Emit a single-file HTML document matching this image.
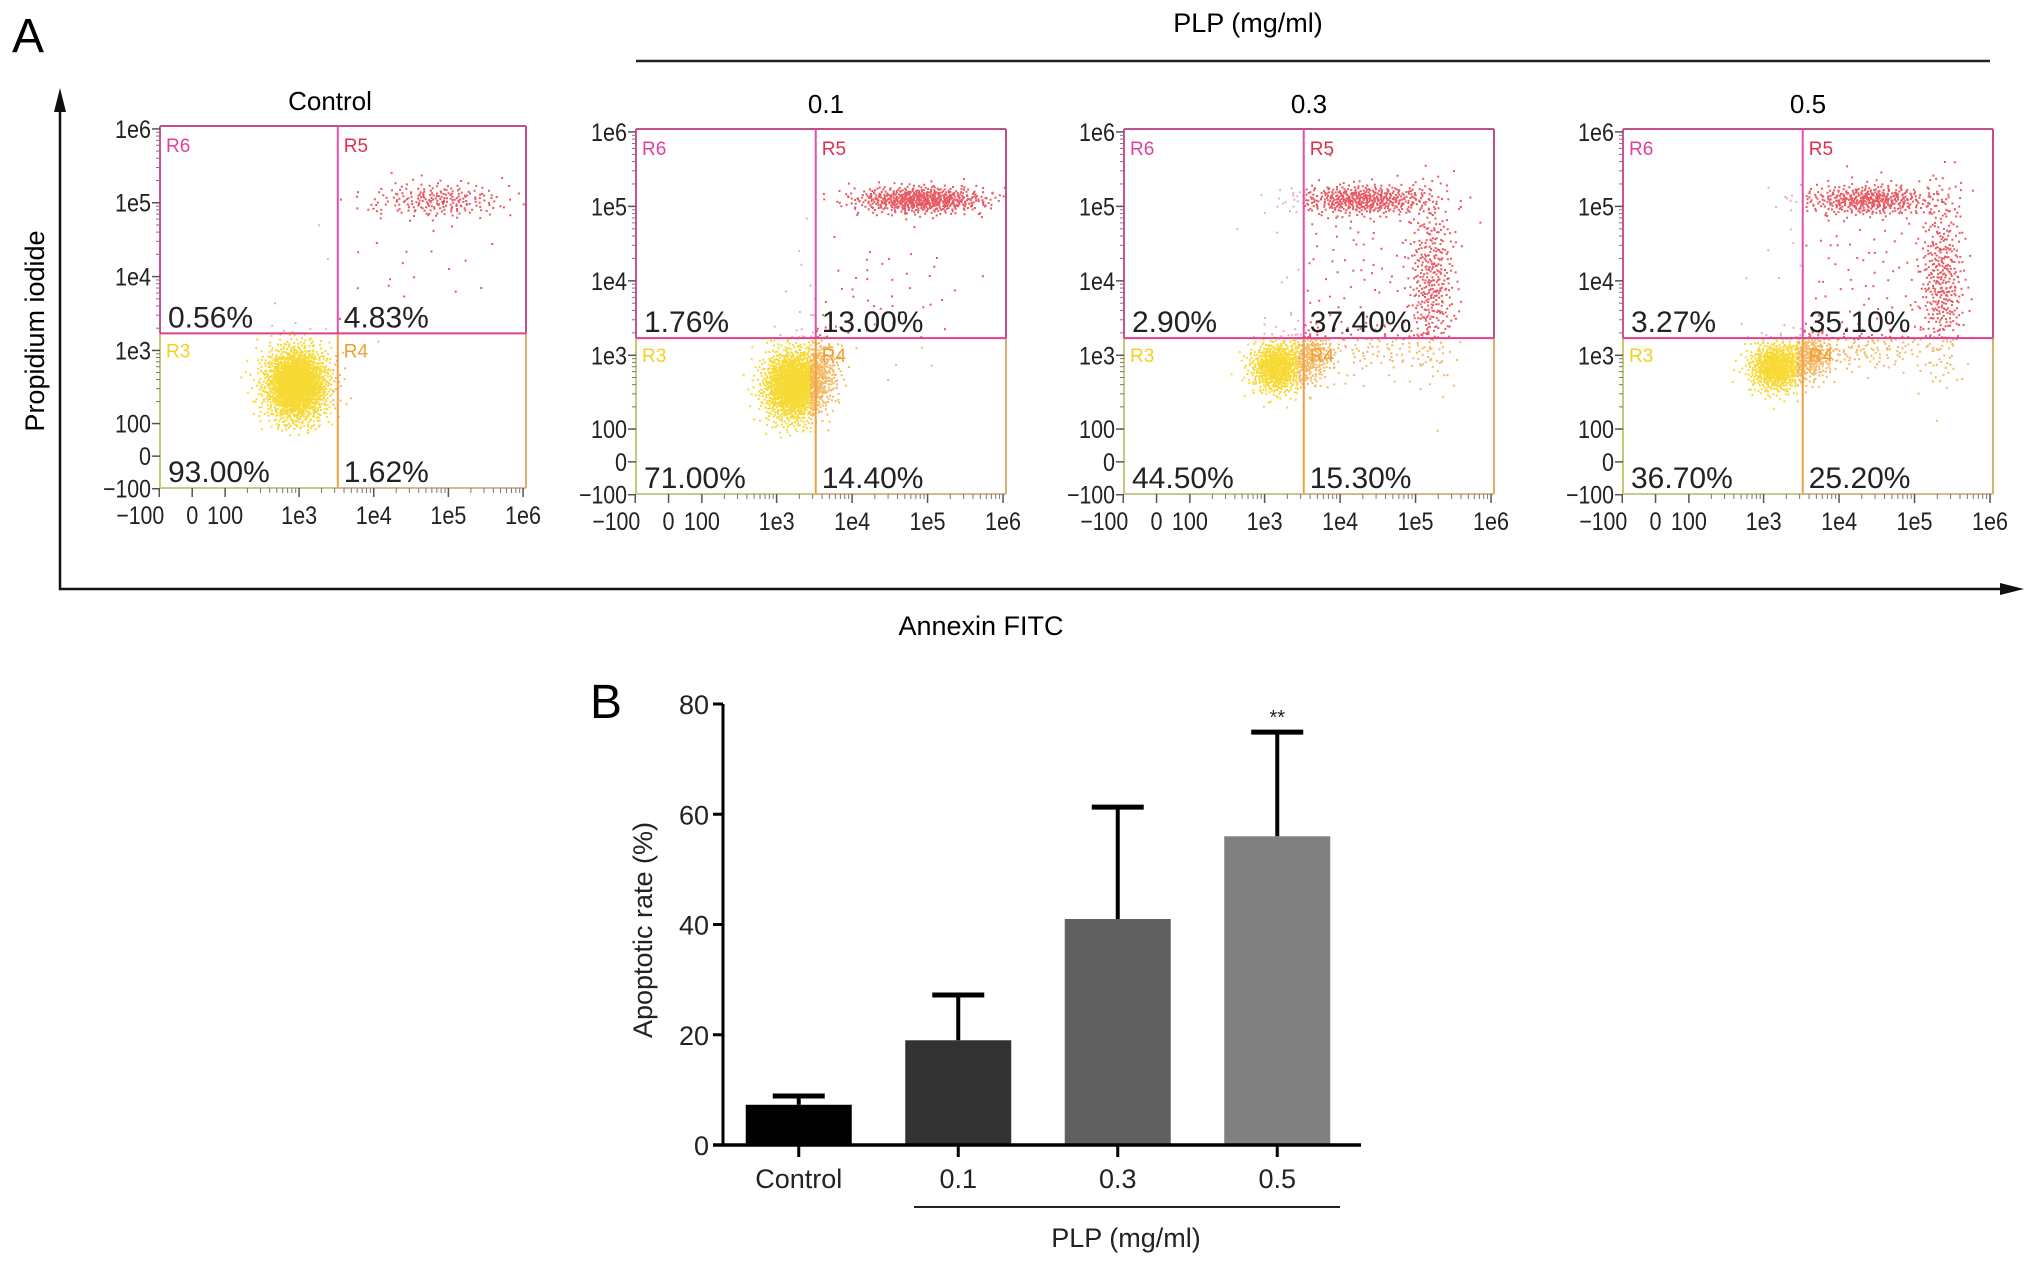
<!DOCTYPE html>
<html><head><meta charset="utf-8">
<style>
html,body{margin:0;padding:0;background:#fff;}
svg{display:block;font-family:"Liberation Sans",Arial,sans-serif;}
</style></head>
<body>
<svg id="fig" width="2032" height="1266" viewBox="0 0 2032 1266" xmlns="http://www.w3.org/2000/svg">
  <text x="12" y="52" font-size="48">A</text>
  <text x="1248" y="32" font-size="27" text-anchor="middle">PLP (mg/ml)</text>
  <line x1="636" y1="61" x2="1990" y2="61" stroke="#222" stroke-width="2.5"/>
  <line x1="60" y1="100" x2="60" y2="590" stroke="#111" stroke-width="2.5"/>
  <polygon points="60,88 54,112 66,112" fill="#111"/>
  <line x1="59" y1="589" x2="2010" y2="589" stroke="#111" stroke-width="2.5"/>
  <polygon points="2024,589 2000,583 2000,595" fill="#111"/>
  <text x="0" y="0" font-size="27" text-anchor="middle" transform="translate(44,331) rotate(-90)">Propidium iodide</text>
  <text x="981" y="635" font-size="27" text-anchor="middle">Annexin FITC</text>
  <g id="flow"></g>
  <text x="590" y="718" font-size="48">B</text>
  <g id="bar"></g>
</svg>
<script>
// ---------- Flow cytometry data ----------
const panelNames = ['Control', '0.1', '0.3', '0.5'];
const quadUL = ['0.56%', '1.76%', '2.90%', '3.27%'];
const quadUR = ['4.83%', '13.00%', '37.40%', '35.10%'];
const quadLL = ['93.00%', '71.00%', '44.50%', '36.70%'];
const quadLR = ['1.62%', '14.40%', '15.30%', '25.20%'];
const flowTickLabels = ['-100', '0', '100', '1e3', '1e4', '1e5', '1e6'];
const flowTickValues = [-100, 0, 100, 1000, 10000, 100000, 1000000];
const gateX = 3300;
const gateY = 1700;
// clusters in log10 units: panel index, center x, center y, spread x, spread y, count
const clusterPanel = [0, 0, 0, 1, 1, 1, 1, 2, 2, 2, 2, 2, 2, 3, 3, 3, 3, 3, 3];
const clusterLX = [2.95, 4.85, 4.4, 3.2, 3.55, 4.9, 4.3, 3.15, 3.6, 4.3, 5.2, 4.5, 4.2, 3.15, 3.6, 4.4, 5.35, 4.4, 4.3];
const clusterLY = [2.55, 5.05, 4.2, 2.6, 2.8, 5.1, 3.8, 2.85, 3.0, 5.1, 4.0, 3.1, 4.2, 2.85, 3.0, 5.1, 4.0, 3.1, 4.2];
const clusterSX = [0.22, 0.45, 0.8, 0.2, 0.14, 0.45, 0.7, 0.18, 0.16, 0.45, 0.16, 0.45, 0.6, 0.18, 0.16, 0.45, 0.15, 0.5, 0.6];
const clusterSY = [0.26, 0.12, 0.6, 0.25, 0.24, 0.09, 0.5, 0.18, 0.2, 0.1, 0.6, 0.18, 0.6, 0.17, 0.17, 0.1, 0.6, 0.15, 0.6];
const clusterN = [1800, 220, 30, 1400, 300, 650, 60, 700, 260, 500, 380, 100, 80, 700, 300, 450, 380, 150, 80];

// ---------- Bar chart data ----------
const barCategories = ['Control', '0.1', '0.3', '0.5'];
const barValues = [7.3, 19, 41, 56];
const barErrors = [1.6, 8.2, 20.3, 18.9];
const yTicks = [0, 20, 40, 60, 80];
const barSignif = ['', '', '', '**'];

const NS = 'http://www.w3.org/2000/svg';
function mk(tag, attrs, parent) {
  const e = document.createElementNS(NS, tag);
  for (const k in attrs) e.setAttribute(k, attrs[k]);
  parent.appendChild(e);
  return e;
}
function frac(v) {
  if (v >= 1000) return 0.38 + (Math.log10(v) - 3) * 0.204;
  if (v >= 100) return 0.178 + (Math.log10(v) - 2) * 0.202;
  return 0.088 + v / 100 * 0.09;
}
function fracL(l) {
  if (l >= 2) return frac(Math.pow(10, l));
  return Math.max(0.005, 0.178 - (2 - l) * 0.09);
}
function halton(i, b) { let f = 1, r = 0; while (i > 0) { f /= b; r += f * (i % b); i = Math.floor(i / b); } return r; }

const panelLeft = [160, 636, 1124, 1623];
const panelTop = [126, 129, 129, 129];
const panelW = [366, 370, 370, 370];
const panelH = [362, 365, 365, 365];
const titleOffset = [-13, 5, 0, 0];
const flow = document.getElementById('flow');

panelNames.forEach((name, p) => {
  const L = panelLeft[p], T = panelTop[p], W = panelW[p], H = panelH[p];
  const X = v => L + frac(v) * W, Y = v => T + H - frac(v) * H;
  const g = mk('g', {}, flow);
  
  
  const t = mk('text', {x: L + W / 2 + titleOffset[p], y: T - 16, 'font-size': 26, 'text-anchor': 'middle'}, g);
  
  
  t.textContent = name;
  const dg = mk('g', {}, g);
  
  
  const gx = X(gateX), gy = Y(gateY);
  let parts = {y: '', o: '', r: '', m: ''};
  let idx = 1 + p * 7919;
  clusterPanel.forEach((cp, c) => {
    if (cp !== p) return;
    for (let i = 0; i < clusterN[c]; i++) {
      idx++;
      const u1 = Math.max(0.003, halton(idx, 2)), u2 = halton(idx, 3);
      const rr = Math.sqrt(-2 * Math.log(u1));
      const lx = clusterLX[c] + clusterSX[c] * rr * Math.cos(2 * Math.PI * u2);
      const ly = clusterLY[c] + clusterSY[c] * rr * Math.sin(2 * Math.PI * u2);
      const px = L + fracL(lx) * W, py = T + H - fracL(ly) * H;
      if (px < L + 2 || px > L + W - 2 || py < T + 2 || py > T + H - 2) continue;
      const seg = 'M' + px.toFixed(1) + ' ' + py.toFixed(1) + 'h2v2h-2z';
      if (py > gy) { if (px < gx - 6) parts.y += seg; else parts.o += seg; }
      else { if (px < gx) parts.m += seg; else parts.r += seg; }
    }
  });
  [['y', '#f5cf00', 0.8], ['o', '#f09a20', 0.7], ['r', '#e0202c', 0.75], ['m', '#e070b0', 0.6]].forEach(([k, col, op]) => {
    const pa = mk('path', {d: parts[k] || 'M0 0', fill: col, opacity: op}, dg);
    
    
  });
  const gl = (x1, y1, x2, y2, col, nm) => {
    const l = mk('line', {x1, y1, x2, y2, stroke: col, 'stroke-width': 2}, g);
    
    
  };
  gl(L, T, L + W, T, '#c0508a', 'gate-top');
  gl(L, T, L, gy, '#d050a0', 'gate-left-upper');
  gl(L + W, T, L + W, gy, '#c0508a', 'gate-right-upper');
  gl(L, gy, L, T + H, '#c8c878', 'gate-left-lower');
  gl(L + W, gy, L + W, T + H, '#d8b070', 'gate-right-lower');
  gl(L, T + H, gx, T + H, '#c8c890', 'gate-bottom-left');
  gl(gx, T + H, L + W, T + H, '#d8b890', 'gate-bottom-right');
  gl(gx, T, gx, gy, '#e050b0', 'gate-vertical-upper');
  gl(gx, gy, gx, T + H, '#f0a040', 'gate-vertical-lower');
  gl(L, gy, L + W, gy, '#e0408a', 'gate-horizontal');
  [['R6', L + 6, T + 26, '#e040a0'], ['R5', gx + 6, T + 26, '#e03050'], ['R3', L + 6, gy + 24, '#f0d020'], ['R4', gx + 6, gy + 24, '#f0a030']].forEach(([s, x, y, col]) => {
    const e = mk('text', {x, y, 'font-size': 19, fill: col}, g);
    
    
    e.textContent = s;
  });
  [[quadUL[p], L + 8, gy - 6], [quadUR[p], gx + 6, gy - 6], [quadLL[p], L + 8, T + H - 6], [quadLR[p], gx + 6, T + H - 6]].forEach(([s, x, y]) => {
    const e = mk('text', {x, y, 'font-size': 30, fill: '#222'}, g);
    
    
    e.textContent = s;
  });
  flowTickValues.forEach((v, i) => {
    const xx = X(v), yy = Y(v);
    const lab = flowTickLabels[i].replace('-', '\u2212');
    const tl = lab.length * 12;
    mk('line', {x1: xx, y1: T + H, x2: xx, y2: T + H + 9, stroke: '#555', 'stroke-width': 1.5}, g);
    mk('line', {x1: L - 8, y1: yy, x2: L, y2: yy, stroke: '#555', 'stroke-width': 1.5}, g);
    const tx = mk('text', {x: i === 0 ? xx + 5 : xx, y: T + H + 36, 'font-size': 25, textLength: tl, lengthAdjust: 'spacingAndGlyphs', 'text-anchor': i === 0 ? 'end' : 'middle', fill: '#222'}, g);
    
    
    tx.textContent = lab;
    const ty = mk('text', {x: L - 9, y: yy + 9, 'font-size': 25, textLength: tl, lengthAdjust: 'spacingAndGlyphs', 'text-anchor': 'end', fill: '#222'}, g);
    
    
    ty.textContent = lab;
  });
  for (let d = 2; d < 6; d++) for (let m = 2; m < 10; m++) {
    const v = m * Math.pow(10, d);
    mk('line', {x1: X(v), y1: T + H, x2: X(v), y2: T + H + 5, stroke: '#777', 'stroke-width': 1}, g);
    mk('line', {x1: L - 4, y1: Y(v), x2: L, y2: Y(v), stroke: '#777', 'stroke-width': 1}, g);
  }
});

// ---------- Bar chart ----------
const bar = document.getElementById('bar');
const bx0 = 723, bx1 = 1361, by0 = 1145, by80 = 704;
const yS = v => by0 - (v / 80) * (by0 - by80);
const slot = (bx1 - bx0) / barCategories.length;
const barFill = ['#000000', '#333333', '#606060', '#808080'];
yTicks.forEach(v => {
  mk('line', {x1: bx0 - 10, y1: yS(v), x2: bx0, y2: yS(v), stroke: '#000', 'stroke-width': 3}, bar);
  const t = mk('text', {x: bx0 - 14, y: yS(v) + 10, 'font-size': 27, 'text-anchor': 'end', fill: '#222'}, bar);
  
  
  t.textContent = v;
});
barCategories.forEach((c, i) => {
  const cx = bx0 + slot * (i + 0.5) - 4;
  const bw = 106;
  const eTop = yS(barValues[i] + barErrors[i]);
  const el = mk('line', {x1: cx, y1: eTop, x2: cx, y2: yS(barValues[i]), stroke: '#000', 'stroke-width': 4}, bar);
  
  
  const ec = mk('line', {x1: cx - 26, y1: eTop, x2: cx + 26, y2: eTop, stroke: '#000', 'stroke-width': 5}, bar);
  
  
  const r = mk('rect', {x: cx - bw / 2, y: yS(barValues[i]), width: bw, height: by0 - yS(barValues[i]), fill: barFill[i]}, bar);
  
  
  mk('line', {x1: cx, y1: by0, x2: cx, y2: by0 + 12, stroke: '#000', 'stroke-width': 3}, bar);
  const t = mk('text', {x: cx, y: by0 + 43, 'font-size': 27, 'text-anchor': 'middle', fill: '#222'}, bar);
  
  
  t.textContent = c;
  if (barSignif[i]) {
    const s = mk('text', {x: cx, y: eTop - 8, 'font-size': 20, 'text-anchor': 'middle', fill: '#222'}, bar);
    
    
    s.textContent = barSignif[i];
  }
});
const ya = mk('line', {x1: bx0, y1: by80, x2: bx0, y2: by0 + 1.5, stroke: '#000', 'stroke-width': 3}, bar);


const xa = mk('line', {x1: bx0 - 10, y1: by0, x2: bx1, y2: by0, stroke: '#000', 'stroke-width': 3.5}, bar);


const yt = mk('text', {x: 0, y: 0, 'font-size': 27, 'text-anchor': 'middle', fill: '#222', transform: 'translate(652,930) rotate(-90)'}, bar);


yt.textContent = 'Apoptotic rate (%)';
const pl = mk('line', {x1: 914, y1: 1207, x2: 1340, y2: 1207, stroke: '#222', 'stroke-width': 2}, bar);


const pt = mk('text', {x: 1126, y: 1247, 'font-size': 27, 'text-anchor': 'middle', fill: '#222'}, bar);


pt.textContent = 'PLP (mg/ml)';
</script>
</body></html>
